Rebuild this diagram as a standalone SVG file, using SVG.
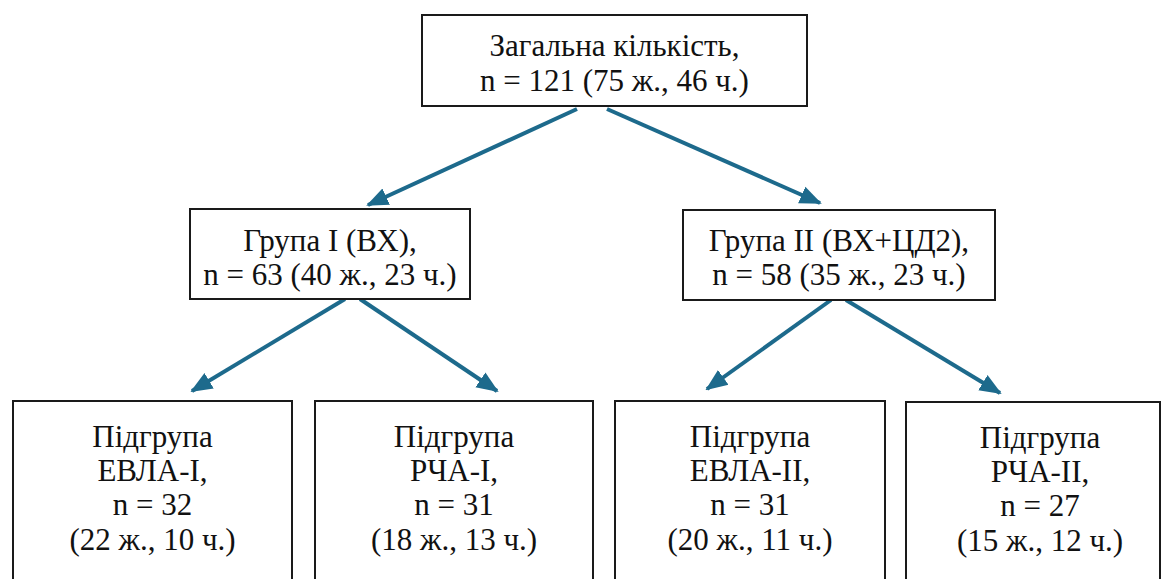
<svg xmlns="http://www.w3.org/2000/svg" width="1162" height="579" viewBox="0 0 1162 579">
<style>
.box{fill:#fff;stroke:#1a1a1a;stroke-width:2}
.t{font-size:31px;fill:#111;text-anchor:middle}
.c{stroke:#1d6a8c;stroke-width:4;fill:none;marker-end:url(#ah)}
</style>
<defs>
<marker id="ah" markerUnits="userSpaceOnUse" markerWidth="22" markerHeight="20" refX="20" refY="9" orient="auto" viewBox="0 0 22 18">
<path d="M0,0 L22,9 L0,18 Z" fill="#1d6a8c"/>
</marker>
</defs>
<rect width="1162" height="579" fill="#fff"/>
<g id="connectors">
<line class="c" x1="577" y1="109" x2="368" y2="205"/>
<line class="c" x1="607" y1="109" x2="820" y2="203"/>
<line class="c" x1="345" y1="299" x2="192" y2="391"/>
<line class="c" x1="360" y1="299" x2="497" y2="391"/>
<line class="c" x1="831" y1="300" x2="707" y2="389"/>
<line class="c" x1="846" y1="300" x2="1000" y2="393"/>
</g>
<g id="total">
<rect class="box" x="422" y="15" width="385" height="91"/>
<text class="t" font-family="serif" x="614.5" y="56">Загальна кількість,</text>
<text class="t" font-family="serif" x="614.5" y="91">n = 121 (75 ж., 46 ч.)</text>
</g>
<g id="group1">
<rect class="box" x="190" y="209" width="280" height="90"/>
<text class="t" font-family="Liberation Serif" x="330" y="251">Група I (ВХ),</text>
<text class="t" font-family="Liberation Serif" x="330" y="285">n = 63 (40 ж., 23 ч.)</text>
</g>
<g id="group2">
<rect class="box" x="683" y="210" width="312" height="90"/>
<text class="t" font-family="Times New Roman" x="839" y="251">Група II (ВХ+ЦД2),</text>
<text class="t" font-family="Times New Roman" x="839" y="285">n = 58 (35 ж., 23 ч.)</text>
</g>
<g id="sub-evla1">
<rect class="box" x="13" y="401" width="279" height="200"/>
<text class="t" font-family="serif" x="152.5" y="447">Підгрупа</text>
<text class="t" font-family="serif" x="152.5" y="481">ЕВЛА-I,</text>
<text class="t" font-family="serif" x="152.5" y="515">n = 32</text>
<text class="t" font-family="serif" x="152.5" y="550">(22 ж., 10 ч.)</text>
</g>
<g id="sub-rcha1">
<rect class="box" x="315" y="401" width="278" height="200"/>
<text class="t" font-family="Liberation Serif" x="454" y="447">Підгрупа</text>
<text class="t" font-family="Liberation Serif" x="454" y="481">РЧА-I,</text>
<text class="t" font-family="Liberation Serif" x="454" y="515">n = 31</text>
<text class="t" font-family="Liberation Serif" x="454" y="550">(18 ж., 13 ч.)</text>
</g>
<g id="sub-evla2">
<rect class="box" x="615" y="401" width="270" height="200"/>
<text class="t" font-family="Times New Roman" x="750" y="447">Підгрупа</text>
<text class="t" font-family="Times New Roman" x="750" y="481">ЕВЛА-II,</text>
<text class="t" font-family="Times New Roman" x="750" y="515">n = 31</text>
<text class="t" font-family="Times New Roman" x="750" y="550">(20 ж., 11 ч.)</text>
</g>
<g id="sub-rcha2">
<rect class="box" x="906" y="402" width="254" height="200"/>
<text class="t" font-family="serif" x="1040" y="448">Підгрупа</text>
<text class="t" font-family="serif" x="1040" y="482">РЧА-II,</text>
<text class="t" font-family="serif" x="1040" y="516">n = 27</text>
<text class="t" font-family="serif" x="1040" y="551">(15 ж., 12 ч.)</text>
</g>
</svg>
